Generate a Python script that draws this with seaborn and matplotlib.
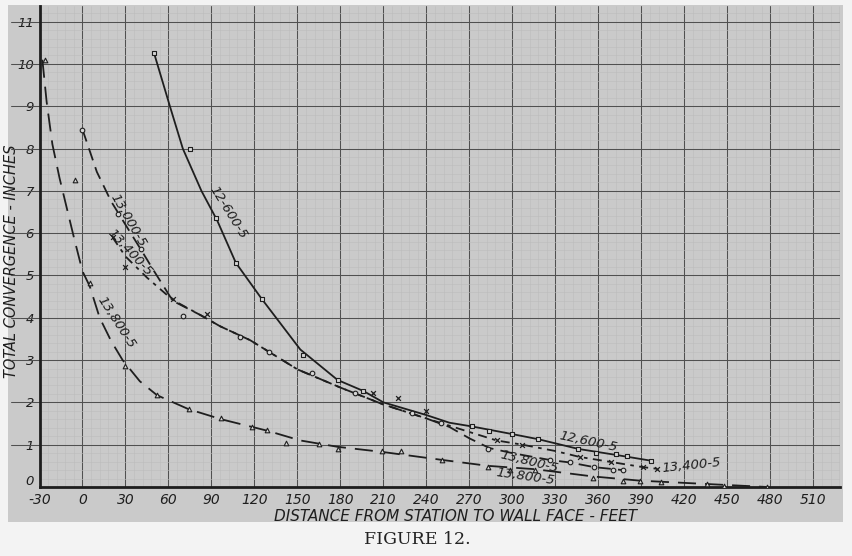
import numpy as np
import pandas as pd
import matplotlib
matplotlib.use("Agg")
import matplotlib.pyplot as plt
import matplotlib.transforms as mtransforms
import seaborn as sns
from matplotlib.ticker import MultipleLocator
from matplotlib.patches import Rectangle

# Hand-drawn curves (distance ft, convergence in)
curve_12600_x = [50, 61, 70, 83, 94, 107, 125, 152, 178, 196, 210, 240, 256, 272, 300, 318, 346, 372, 397]
curve_12600_y = [10.25, 9.0, 8.0, 7.0, 6.3, 5.3, 4.45, 3.25, 2.53, 2.27, 2.0, 1.7, 1.52, 1.43, 1.25, 1.13, 0.9, 0.76, 0.62]

curve_13000_x = [0, 10, 20, 30, 41, 50, 63, 82, 96, 117, 150, 180, 210, 240, 256, 270, 284, 300, 326, 340, 357, 377]
curve_13000_y = [8.45, 7.45, 6.75, 6.2, 5.6, 5.1, 4.4, 4.07, 3.8, 3.47, 2.78, 2.35, 1.95, 1.62, 1.42, 1.15, 0.92, 0.8, 0.64, 0.58, 0.47, 0.4]

curve_13400_x = [21, 30, 45, 63, 82, 96, 117, 150, 180, 210, 240, 256, 270, 289, 307, 330, 347, 369, 391, 401]
curve_13400_y = [5.9, 5.45, 4.95, 4.42, 4.07, 3.8, 3.47, 2.78, 2.35, 1.95, 1.62, 1.45, 1.3, 1.1, 1.0, 0.85, 0.71, 0.59, 0.47, 0.43]

curve_13800_x = [-28, -25, -21, -16, -11, -6, 0, 5, 12, 20, 28, 40, 52, 74, 97, 129, 152, 178, 209, 251, 283, 316, 356, 389, 436, 478]
curve_13800_y = [10.1, 9.1, 8.1, 7.3, 6.6, 5.9, 5.1, 4.75, 4.0, 3.45, 3.0, 2.5, 2.17, 1.84, 1.6, 1.33, 1.1, 0.95, 0.83, 0.64, 0.5, 0.42, 0.25, 0.15, 0.07, 0.0]

# Plotted observations
pts_12600_x = [50, 75, 93, 107, 125, 154, 178, 196, 272, 284, 300, 318, 346, 358, 372, 380, 397]
pts_12600_y = [10.25, 8.0, 6.36, 5.3, 4.44, 3.12, 2.53, 2.27, 1.44, 1.32, 1.25, 1.13, 0.9, 0.8, 0.78, 0.73, 0.62]

pts_13000_x = [0, 25, 41, 70, 110, 130, 160, 190, 230, 250, 283, 326, 340, 357, 370, 377]
pts_13000_y = [8.45, 6.45, 5.63, 4.05, 3.55, 3.2, 2.7, 2.22, 1.75, 1.52, 0.89, 0.64, 0.6, 0.47, 0.4, 0.4]

pts_13400_x = [21, 30, 63, 87, 203, 220, 240, 289, 307, 347, 369, 391, 401]
pts_13400_y = [5.9, 5.2, 4.45, 4.1, 2.22, 2.1, 1.8, 1.1, 1.0, 0.71, 0.59, 0.47, 0.43]

pts_13800_x = [-26, -5, 5, 30, 52, 74, 97, 118, 129, 142, 165, 178, 209, 222, 251, 283, 298, 316, 356, 377, 389, 404, 436, 448, 478]
pts_13800_y = [10.1, 7.26, 4.82, 2.86, 2.17, 1.84, 1.63, 1.42, 1.35, 1.04, 1.02, 0.9, 0.85, 0.85, 0.64, 0.47, 0.4, 0.4, 0.21, 0.14, 0.14, 0.12, 0.07, 0.02, 0.0]

x_ticks = [-30, 0, 30, 60, 90, 120, 150, 180, 210, 240, 270, 300, 330, 360, 390, 420, 450, 480, 510]
y_ticks = [0, 1, 2, 3, 4, 5, 6, 7, 8, 9, 10, 11]

paper = "#cacaca"
ink = "#1e1e1e"

sns.set_style("white")
plt.rcParams["font.family"] = ["DejaVu Sans"]

fig = plt.figure(figsize=(8.52, 5.56), dpi=100, facecolor="#f3f3f3")
# graph paper sheet, kept behind the axes
fig.patches.append(Rectangle((8 / 852, 1 - 522 / 556), 835 / 852, 517 / 556,
                             transform=fig.transFigure, facecolor=paper,
                             edgecolor="none", zorder=-10))
ax = fig.add_axes([39.5 / 852, 69 / 556, 800.5 / 852, 481 / 556])
ax.set_facecolor(paper)

series = [
    (curve_12600_x, curve_12600_y, pts_12600_x, pts_12600_y, "-", "s"),
    (curve_13000_x, curve_13000_y, pts_13000_x, pts_13000_y, (0, (7, 4)), "o"),
    (curve_13400_x, curve_13400_y, pts_13400_x, pts_13400_y, (0, (5, 3, 2, 3)), "x"),
    (curve_13800_x, curve_13800_y, pts_13800_x, pts_13800_y, (0, (10, 5)), "^"),
]

for cx, cy, px, py, ls, mk in series:
    sns.lineplot(x=cx, y=cy, ax=ax, color=ink, lw=1.3, linestyle=ls,
                 estimator=None, sort=False, zorder=3)
    if mk == "x":
        sns.scatterplot(x=px, y=py, ax=ax, marker="x", s=12, color=ink,
                        linewidth=0.9, zorder=4)
    else:
        sns.scatterplot(x=px, y=py, ax=ax, marker=mk, s=11, facecolor="#d6d6d6",
                        edgecolor=ink, linewidth=0.8, zorder=4)

ax.set_xlim(-30, 528.6)
ax.set_ylim(0, 11.37)

# graph paper ruling
ax.xaxis.set_major_locator(MultipleLocator(30))
ax.yaxis.set_major_locator(MultipleLocator(1))
ax.xaxis.set_minor_locator(MultipleLocator(6))
ax.yaxis.set_minor_locator(MultipleLocator(0.2))
ax.grid(which="major", color="#505050", lw=0.75)
ax.grid(which="minor", color="#bcbcbc", lw=0.4)
ax.set_axisbelow(True)

# ruled lines run past the left axis on the sheet
for yv in y_ticks[1:]:
    ax.axhline(yv, xmin=-0.036, xmax=0, color="#505050", lw=0.75, clip_on=False)

ax.set_xticks(x_ticks)
ax.set_yticks(y_ticks)
ax.set_xticklabels([str(t) for t in x_ticks], fontsize=10, style="italic", color=ink)
ax.set_yticklabels([str(t) for t in y_ticks], fontsize=9.5, style="italic", color=ink)
ax.tick_params(axis="x", length=0, pad=4)
ax.tick_params(axis="y", length=0, pad=4)

# the zero on the y scale sits a little above the corner, clear of "-30"
zero_lab = ax.get_yticklabels()[0]
zero_lab.set_transform(zero_lab.get_transform()
                       + mtransforms.ScaledTranslation(0, 5 / 72, fig.dpi_scale_trans))

for side in ["top", "right"]:
    ax.spines[side].set_visible(False)
for side in ["left", "bottom"]:
    ax.spines[side].set_color(ink)
    ax.spines[side].set_linewidth(2)

ax.set_xlabel("DISTANCE FROM STATION TO WALL FACE - FEET", fontsize=11,
              style="italic", color=ink)
ax.xaxis.set_label_coords(0.52, -0.045)
ax.set_ylabel("TOTAL CONVERGENCE - INCHES", fontsize=10.5, style="italic",
              color=ink)
ax.yaxis.set_label_coords(-0.025, 0.47)

# curve labels written along the lines
lab = dict(fontsize=9.5, style="italic", color=ink, ha="center", va="center",
           rotation_mode="anchor", zorder=5)
ax.text(101.6, 6.5, "12-600-5", rotation=-58, **lab)
ax.text(31.8, 6.31, "13,000-5", rotation=-60, **lab)
ax.text(33, 5.55, "13,400-5", rotation=-47, **lab)
ax.text(23.4, 3.9, "13,800-5", rotation=-57, **lab)
ax.text(352.7, 1.06, "12,600-5", rotation=-12, **lab)
ax.text(425, 0.52, "13,400-5", rotation=6, **lab)
ax.text(312, 0.59, "13,800-5", rotation=-14, **lab)
ax.text(309, 0.24, "13,800-5", rotation=-8, **lab)

fig.text(0.49, 0.029, "FIGURE 12.", fontsize=12.5, family="DejaVu Serif",
         ha="center", va="center", color="#222222")

fig.savefig("out.png", dpi=100, facecolor=fig.get_facecolor())
